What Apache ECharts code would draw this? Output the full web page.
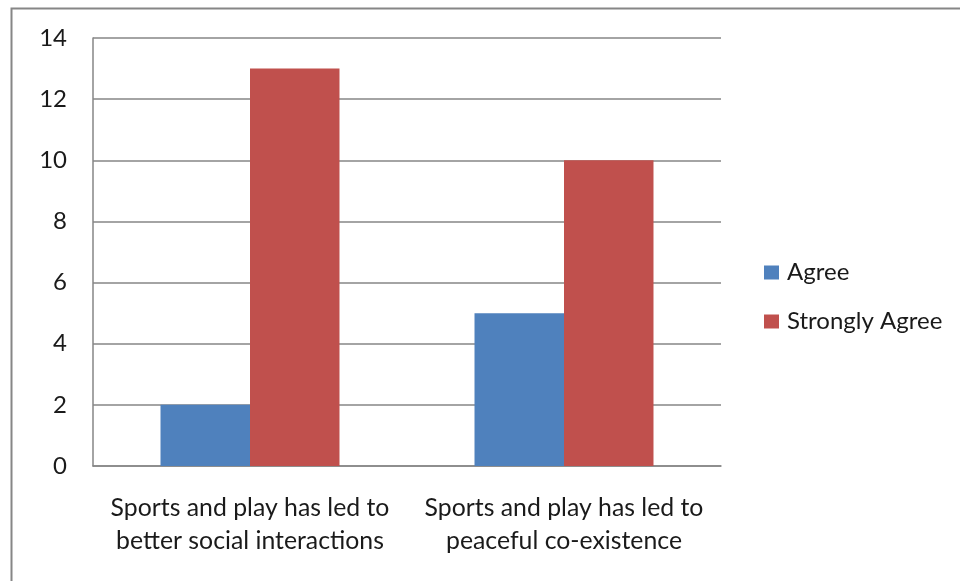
<!DOCTYPE html>
<html><head><meta charset="utf-8">
<script src="https://cdn.jsdelivr.net/npm/echarts@6/dist/echarts.min.js"></script>
<style>html,body{margin:0;padding:0;background:#fff}#c{width:960px;height:581px}</style>
</head><body><div id="c"></div>
<script>
const categories = ["Sports and play has led to\nbetter social interactions", "Sports and play has led to\npeaceful co-existence"];
const agree = [2, 5];
const stronglyAgree = [13, 10];
const yTicks = [0, 2, 4, 6, 8, 10, 12, 14];

const FONT = 'Lato';
const chart = echarts.init(document.getElementById('c'), null, {renderer: 'canvas'});
chart.setOption({
  animation: false,
  backgroundColor: '#fff',
  graphic: [{
    type: 'rect', shape: {x: 11.5, y: 8.5, width: 960, height: 600},
    style: {fill: 'none', stroke: '#868686', lineWidth: 2}, silent: true
  }],
  grid: {left: 93, top: 38, width: 628, height: 428, containLabel: false},
  legend: {
    orient: 'vertical', left: 764, top: 260, padding: 0, itemWidth: 15, itemHeight: 14, itemGap: 24,
    icon: 'rect',
    textStyle: {fontFamily: FONT, fontSize: 24, lineHeight: 25, color: '#1a1a1a', padding: [0, 0, 0, 3]},
    data: ['Agree', 'Strongly Agree']
  },
  xAxis: {
    type: 'category', data: categories,
    axisLine: {lineStyle: {color: '#868686', width: 1.5}},
    axisTick: {show: false},
    axisLabel: {fontFamily: FONT, fontSize: 24.8, color: '#1a1a1a', margin: 26, lineHeight: 33, interval: 0}
  },
  yAxis: {
    type: 'value', min: 0, max: 14, interval: 2,
    axisLine: {show: true, lineStyle: {color: '#868686', width: 1.5}},
    axisTick: {show: false},
    splitLine: {lineStyle: {color: '#868686', width: 1.5}},
    axisLabel: {fontFamily: FONT, fontSize: 24, color: '#1a1a1a', margin: 26,
      formatter: v => yTicks.includes(v) ? String(v) : ''}
  },
  series: [
    {name: 'Agree', type: 'bar', data: agree, barWidth: '28.5%', barGap: '0%', itemStyle: {color: '#4F81BD'}},
    {name: 'Strongly Agree', type: 'bar', data: stronglyAgree, barWidth: '28.5%', barGap: '0%', itemStyle: {color: '#C0504D'}}
  ]
});
</script></body></html>
